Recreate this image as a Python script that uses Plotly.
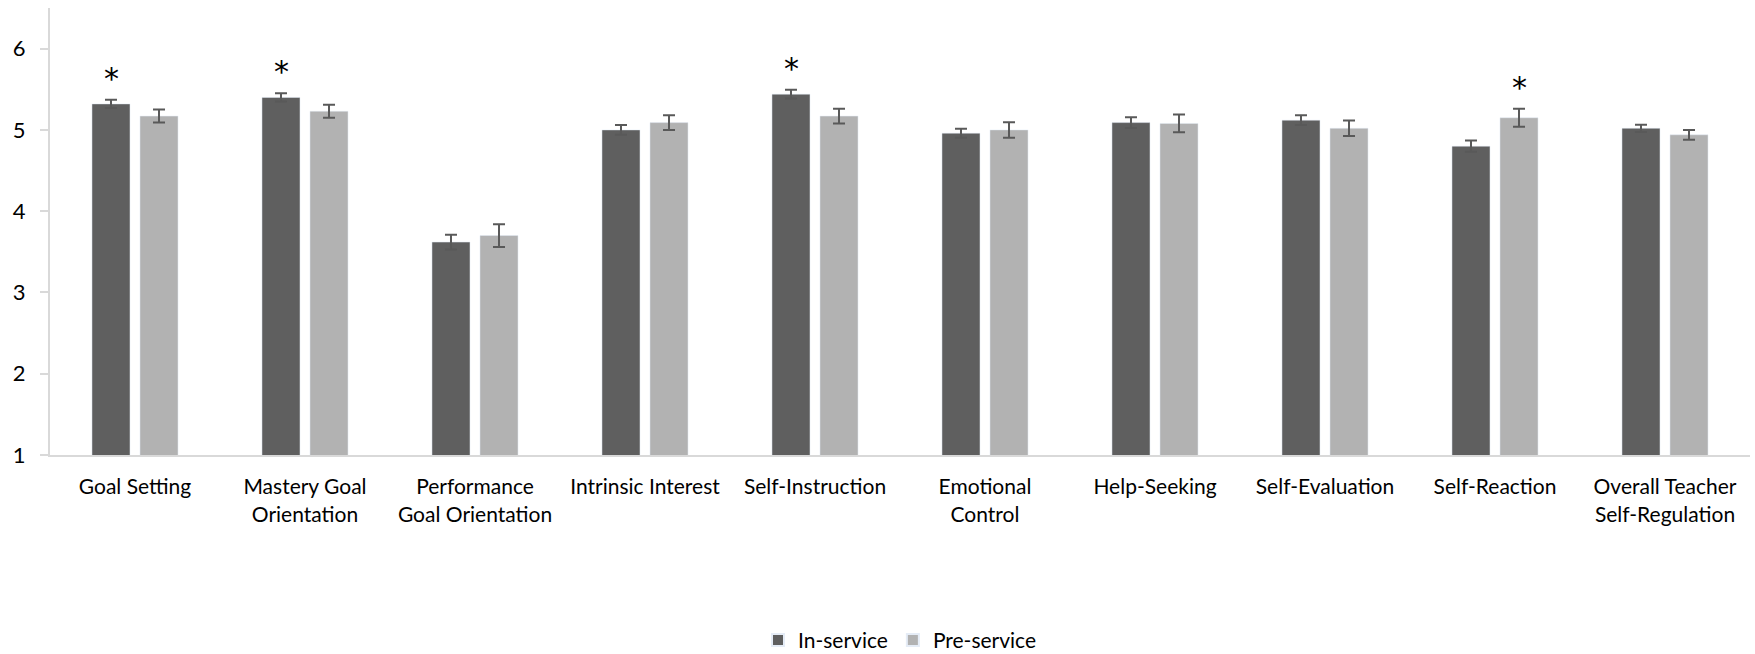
import plotly.graph_objects as go

categories = ["Goal Setting", "Mastery Goal<br>Orientation", "Performance<br>Goal Orientation",
              "Intrinsic Interest", "Self-Instruction", "Emotional<br>Control", "Help-Seeking",
              "Self-Evaluation", "Self-Reaction", "Overall Teacher<br>Self-Regulation"]
in_service = [5.32, 5.40, 3.62, 5.00, 5.44, 4.96, 5.09, 5.12, 4.80, 5.02]
in_err = [0.05, 0.05, 0.09, 0.06, 0.055, 0.055, 0.065, 0.06, 0.07, 0.045]
pre_service = [5.17, 5.23, 3.70, 5.09, 5.17, 5.00, 5.08, 5.02, 5.15, 4.94]
pre_err = [0.08, 0.08, 0.14, 0.09, 0.09, 0.095, 0.11, 0.095, 0.11, 0.06]
# significance markers (category indices)
sig_in = [0, 1, 4]
sig_pre = [8]

FONT = "Lato"
ERRC = "#595959"

fig = go.Figure()
fig.add_trace(go.Bar(
    name="In-service", x=categories, y=in_service, marker_color="#5f5f5f",
    error_y=dict(type="data", array=in_err, visible=True, color=ERRC, thickness=2, width=6),
))
fig.add_trace(go.Bar(
    name="Pre-service", x=categories, y=pre_service, marker_color="#b2b2b2",
    error_y=dict(type="data", array=pre_err, visible=True, color=ERRC, thickness=2, width=6),
))

anns = []
star_font = dict(size=30, color="#000", family="DejaVu Sans")
for i in sig_in:
    anns.append(dict(x=categories[i], y=in_service[i] + in_err[i], text="*", showarrow=False,
                     xshift=-24, yshift=2, yanchor="bottom", font=star_font))
for i in sig_pre:
    anns.append(dict(x=categories[i], y=pre_service[i] + pre_err[i], text="*", showarrow=False,
                     xshift=24, yshift=2, yanchor="bottom", font=star_font))

fig.update_layout(
    width=1755, height=654,
    margin=dict(l=50, r=5, t=8, b=199, autoexpand=False),
    paper_bgcolor="white", plot_bgcolor="white",
    barmode="group", bargap=0.435, bargroupgap=0.208,
    font=dict(family=FONT, size=21, color="#000"),
    showlegend=True,
    legend=dict(orientation="h", x=0.5, xanchor="center", yref="container", y=0.021, yanchor="middle",
                font=dict(size=21, family=FONT), traceorder="normal",
                itemwidth=30, itemsizing="constant"),
    annotations=anns,
    xaxis=dict(type="category", showline=True, linecolor="#d9d9d9", linewidth=2,
               ticks="", ticklabelstandoff=12, tickfont=dict(size=21, family=FONT),
               showgrid=False, automargin=False),
    yaxis=dict(range=[1, 6.5], tickvals=[1, 2, 3, 4, 5, 6], showline=True, linecolor="#d9d9d9",
               linewidth=2, ticks="outside", ticklen=8, tickcolor="#d9d9d9", tickwidth=2,
               showgrid=False, zeroline=False, ticklabelstandoff=10, automargin=False,
               tickfont=dict(size=22, family=FONT)),
)

fig.write_html("out.html")
